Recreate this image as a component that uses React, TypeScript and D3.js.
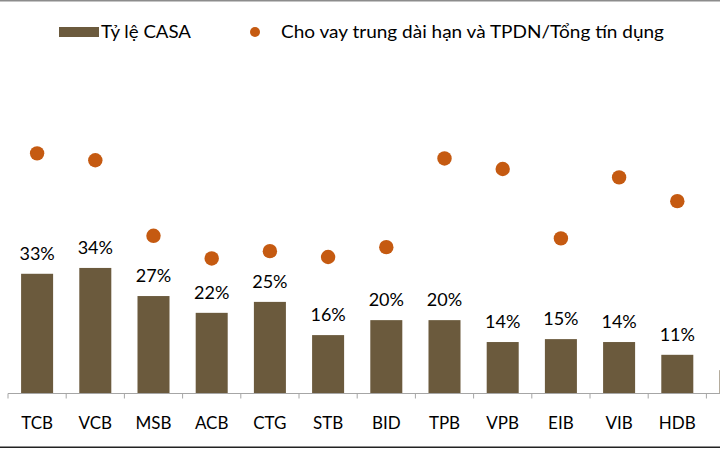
import React from "react";
import * as d3 from "d3";

// banks (13th one is cut off at the right edge in the source picture)
const banks = ["TCB", "VCB", "MSB", "ACB", "CTG", "STB", "BID", "TPB", "VPB", "EIB", "VIB", "HDB", ""];
// Tỷ lệ CASA (%)
const casa = [32.8, 34.4, 26.7, 22.1, 25.1, 16.0, 20.1, 20.1, 14.1, 14.9, 14.1, 10.6, 6.4];
// Cho vay trung dài hạn và TPDN / Tổng tín dụng (%)
const longTerm = [65.8, 63.9, 43.2, 37.0, 39.0, 37.4, 40.1, 64.4, 61.5, 42.5, 59.2, 52.7, null];

const legendLabels = ["Tỷ lệ CASA", "Cho vay trung dài hạn và TPDN/Tổng tín dụng"];

const W = 720;
const H = 449;
const barColor = "#6b5a3d";
const dotColor = "#c55a11";
const font = "Lato, 'Open Sans', sans-serif";

const App = () => {
  const step = 58.2;
  const x = d3
    .scaleBand()
    .domain(banks.map((b, i) => String(i)))
    .range([8, 8 + banks.length * step])
    .paddingInner(0.45)
    .paddingOuter(0.225);

  const baseY = 393.5;
  const y = d3.scaleLinear().domain([0, 70]).range([baseY, baseY - 70 * 3.65]);

  const ticks = d3.range(banks.length + 1).map((i) => 8 + i * step);

  return (
    <div style={{ position: "absolute", left: 0, top: 0 }}>
      <svg width={W} height={H} style={{ display: "block", background: "#fff" }}>
        <rect x={0} y={0} width={W} height={1.5} fill="#8c8c8c" />
        <rect x={0} y={446.5} width={W} height={1.5} fill="#222" />

        {/* legend */}
        <rect x={59} y={27} width={40} height={10} fill={barColor} />
        <text x={101} y={38} fontFamily={font} fontSize={18} textLength={90} lengthAdjust="spacingAndGlyphs" fill="#000">
          {legendLabels[0]}
        </text>
        <circle cx={255} cy={32} r={5} fill={dotColor} />
        <text x={281} y={38} fontFamily={font} fontSize={18} textLength={383} lengthAdjust="spacingAndGlyphs" fill="#000">
          {legendLabels[1]}
        </text>

        {/* bars */}
        {casa.map((v, i) => (
          <rect
            key={"b" + i}
            x={x(String(i))}
            y={y(v)}
            width={x.bandwidth()}
            height={baseY - y(v)}
            fill={barColor}
          />
        ))}

        {/* axis */}
        <line x1={8} x2={W} y1={baseY} y2={baseY} stroke="#a6a6a6" strokeWidth={1} />
        {ticks.map((t, i) => (
          <line key={"t" + i} x1={t} x2={t} y1={baseY} y2={baseY + 5} stroke="#a6a6a6" strokeWidth={1} />
        ))}

        {/* value labels */}
        {casa.map((v, i) =>
          banks[i] ? (
            <text
              key={"v" + i}
              x={x(String(i))! + x.bandwidth() / 2}
              y={y(v) - 14}
              textAnchor="middle"
              fontFamily={font}
              fontSize={18}
              fill="#000"
            >
              {Math.round(v) + "%"}
            </text>
          ) : null
        )}

        {/* category labels */}
        {banks.map((b, i) => (
          <text
            key={"c" + i}
            x={x(String(i))! + x.bandwidth() / 2}
            y={428.7}
            textAnchor="middle"
            fontFamily={font}
            fontSize={17}
            fill="#000"
          >
            {b}
          </text>
        ))}

        {/* dots */}
        {longTerm.map((v, i) =>
          v == null ? null : (
            <circle key={"d" + i} cx={x(String(i))! + x.bandwidth() / 2} cy={y(v)} r={7.2} fill={dotColor} />
          )
        )}
      </svg>
    </div>
  );
};

export default App;
